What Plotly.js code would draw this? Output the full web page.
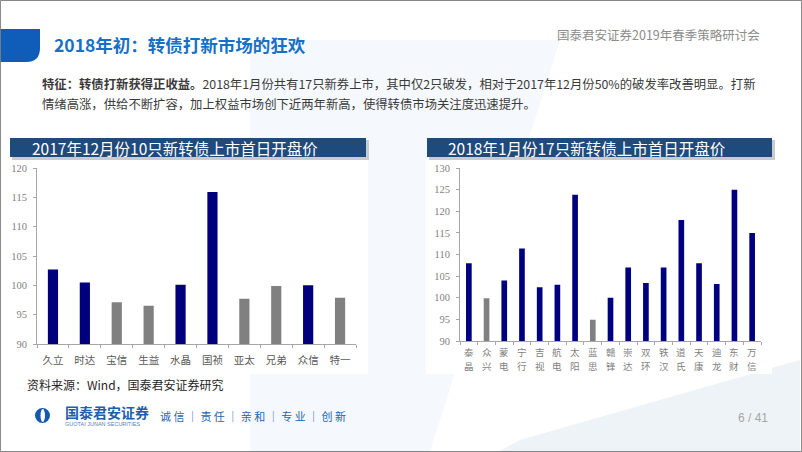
<!DOCTYPE html>
<html><head><meta charset="utf-8">
<script src="https://cdn.plot.ly/plotly-3.0.1.min.js"></script>
<style>html,body{margin:0;padding:0;background:#fff;} #chart{width:802px;height:452px;}</style>
</head><body><div id="chart"></div>
<script>
// ---- data ----
const decCategories = ['久立','时达','宝信','生益','水晶','国祯','亚太','兄弟','众信','特一'];
const decOpenPrice  = [102.7, 100.5, 97.1, 96.5, 100.1, 115.9, 97.7, 99.9, 100.0, 97.9];
const janCategories = ['泰晶','众兴','蒙电','宁行','吉视','航电','太阳','蓝思','赣锋','崇达','双环','铁汉','道氏','天康','迪龙','东财','万信'];
const janOpenPrice  = [108.0, 99.9, 104.0, 111.4, 102.4, 103.0, 123.8, 94.9, 100.0, 107.0, 103.4, 107.0, 118.0, 108.0, 103.2, 125.0, 115.0];
const decYTicks = [90, 95, 100, 105, 110, 115, 120];
const janYTicks = [90, 95, 100, 105, 110, 115, 120, 125, 130];
const parValue = 100;

// ---- styling helpers ----
const W = 802, H = 452;
const px = x => x / W;
const py = y => 1 - y / H;
const NAVY = '#00007f', GRAY = '#808080';
const barColors = vals => vals.map(v => v < parValue ? GRAY : NAVY);
const CJK = '"Noto Sans CJK SC", "Noto Sans", sans-serif';
const SERIF = '"Liberation Serif", "DejaVu Serif", serif';

const traces = [
  {type:'bar', x: decCategories, y: decOpenPrice, marker:{color: barColors(decOpenPrice)},
   xaxis:'x', yaxis:'y', hoverinfo:'x+y', showlegend:false},
  {type:'bar', x: janCategories, y: janOpenPrice, marker:{color: barColors(janOpenPrice)},
   xaxis:'x2', yaxis:'y2', hoverinfo:'x+y', showlegend:false}
];

const axisCommon = {
  showgrid:false, zeroline:false, showline:true, linecolor:'#a6a6a6', linewidth:1,
  ticks:'outside', ticklen:3, tickcolor:'#a6a6a6'
};

const shapes = [];
const annotations = [];
function rect(x0,y0,x1,y1,fill,line){
  shapes.push({type:'rect', xref:'paper', yref:'paper', x0:px(x0), x1:px(x1), y0:py(y1), y1:py(y0),
    fillcolor:fill, line:line||{width:0}, layer:'below'});
}
function text(x,y,t,opts){
  annotations.push(Object.assign({xref:'paper', yref:'paper', x:px(x), y:py(y), text:t, showarrow:false,
    xanchor:'left', yanchor:'middle', font:{family:CJK, size:12, color:'#404040'}}, opts||{}));
}

// faint background shapes
shapes.push({type:'path', xref:'paper', yref:'paper', layer:'below',
  path:`M ${px(250)} ${py(40)} L ${px(560)} ${py(40)} L ${px(430)} ${py(452)} L ${px(250)} ${py(452)} Z`,
  fillcolor:'#f5f8fc', line:{width:0}});
shapes.push({type:'path', xref:'paper', yref:'paper', layer:'below',
  path:`M ${px(520)} ${py(440)} L ${px(800)} ${py(360)} L ${px(800)} ${py(451)} L ${px(500)} ${py(451)} Z`,
  fillcolor:'#eef3f8', line:{width:0}});
// chart panels (white)
rect(8, 158, 368, 374, '#ffffff');
rect(426, 158, 772, 374, '#ffffff');

// header blue tab
shapes.push({type:'path', xref:'paper', yref:'paper', layer:'below',
  path:`M 0 ${py(29)} L ${px(40)} ${py(29)} L ${px(40)} ${py(48)} Q ${px(40)} ${py(62)} ${px(26)} ${py(62)} L 0 ${py(62)} Z`,
  fillcolor:'#0f5db8', line:{width:0}});
text(52, 45, '2018年初：转债打新市场的狂欢', {font:{family:CJK, size:17.5, color:'#1570c8', weight:700}});
text(762, 35, '国泰君安证券2019年春季策略研讨会', {xanchor:'right', font:{family:CJK, size:12.5, color:'#8c8c8c'}});

// paragraph
text(40, 84, '<b>特征：转债打新获得正收益。</b>2018年1月份共有17只新券上市，其中仅2只破发，相对于2017年12月份50%的破发率改善明显。打新',
  {font:{family:CJK, size:12.35, color:'#3a3a3a'}});
text(40, 104, '情绪高涨，供给不断扩容，加上权益市场创下近两年新高，使得转债市场关注度迅速提升。',
  {font:{family:CJK, size:12.35, color:'#3a3a3a'}});

// chart title bars (with shadow)
rect(12, 140, 369, 160, '#c8ccd2');
rect(10, 138, 366, 157, '#1f4a7c');
text(30, 147.5, '2017年12月份10只新转债上市首日开盘价', {font:{family:CJK, size:15.5, color:'#ffffff'}});
rect(429, 140, 775, 160, '#c8ccd2');
rect(427, 138, 772, 157, '#1f4a7c');
text(446, 147.5, '2018年1月份17只新转债上市首日开盘价', {font:{family:CJK, size:15.5, color:'#ffffff'}});

// vertical (stacked) category labels for the right chart, placed via the category axis
janCategories.forEach(cat => {
  cat.split('').forEach((ch, i) => {
    annotations.push({xref:'x2', yref:'paper', x:cat, y:py(351.5 + i*14), text:ch, showarrow:false,
      xanchor:'center', yanchor:'middle', font:{family:CJK, size:9.5, color:'#7f7f7f'}});
  });
});

// footer
text(25, 384, '资料来源：Wind，国泰君安证券研究', {font:{family:CJK, size:12, color:'#262626'}});
// logo
shapes.push({type:'circle', xref:'paper', yref:'paper', x0:px(35), x1:px(50), y0:py(423), y1:py(408),
  fillcolor:'#1459b0', line:{width:0}});
shapes.push({type:'circle', xref:'paper', yref:'paper', x0:px(40.5), x1:px(45), y0:py(422), y1:py(409),
  fillcolor:'#ffffff', line:{width:0}});
text(63, 412, '<b>国泰君安证券</b>', {font:{family:CJK, size:14, color:'#1d5fae'}});
text(63, 424, 'GUOTAI JUNAN SECURITIES', {font:{family:'"Liberation Sans", sans-serif', size:5.5, color:'#5b7fae'}});
text(158, 416, '诚 信 │ 责 任 │ 亲 和 │ 专 业 │ 创 新', {font:{family:CJK, size:11, color:'#2466b5'}});
text(770, 418, '6 / 41', {xanchor:'right', font:{family:'"Liberation Sans", sans-serif', size:12, color:'#a6a6a6'}});

// page border
shapes.push({type:'rect', xref:'paper', yref:'paper', x0:0.0005, x1:0.9995, y0:0.001, y1:0.999,
  line:{color:'#7f7f7f', width:1}, fillcolor:'rgba(0,0,0,0)', layer:'above'});

const layout = {
  width: W, height: H, margin:{l:0, r:0, t:0, b:0},
  paper_bgcolor:'#ffffff', plot_bgcolor:'rgba(0,0,0,0)',
  bargap: 0.68, showlegend:false,
  xaxis: Object.assign({}, axisCommon, {domain:[px(37), px(356)], anchor:'y', type:'category',
    tickson:'boundaries', tickangle:0, tickfont:{family:CJK, size:10.5, color:'#595959'}, ticklabelstandoff:6}),
  yaxis: Object.assign({}, axisCommon, {domain:[py(344), py(168)], anchor:'x', range:[90,120],
    tickvals: decYTicks, tickfont:{family:SERIF, size:10.5, color:'#7f7f7f'}, ticklabelstandoff:4}),
  xaxis2: Object.assign({}, axisCommon, {domain:[px(460), px(761)], anchor:'y2', type:'category',
    tickson:'boundaries', showticklabels:false}),
  yaxis2: Object.assign({}, axisCommon, {domain:[py(341), py(168)], anchor:'x2', range:[90,130],
    tickvals: janYTicks, tickfont:{family:SERIF, size:10.5, color:'#7f7f7f'}, ticklabelstandoff:4}),
  shapes, annotations
};

Plotly.newPlot('chart', traces, layout, {staticPlot:true, displayModeBar:false});
</script>
</body></html>
